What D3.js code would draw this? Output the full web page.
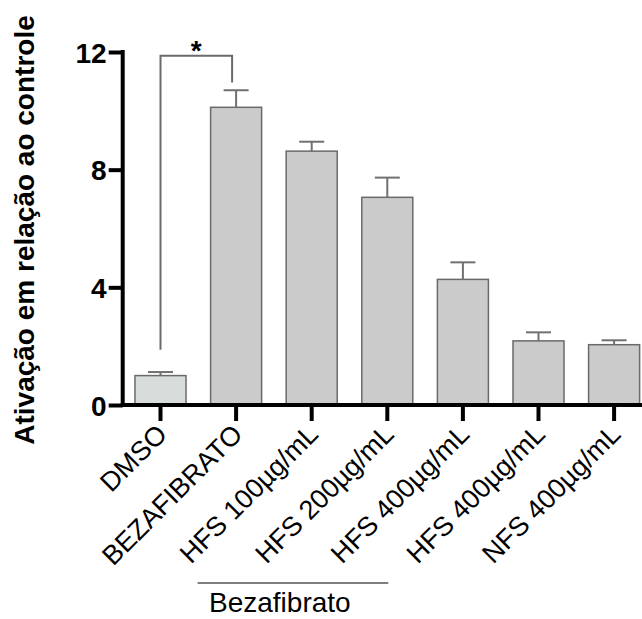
<!DOCTYPE html>
<head>
	<meta charset="utf-8" />
	<style>
		body {
			margin: 0;
			background-color: #fff;
			font-family: Arial, 'Liberation Sans', sans-serif;
		}
		svg text {
			font-family: Arial, 'Liberation Sans', sans-serif;
		}
	</style>
</head>

<body>
	<div id="chart-area"></div>

	<script src="https://d3js.org/d3.v7.min.js"></script>
	<script>
		// values
		const categories = [
			'DMSO',
			'BEZAFIBRATO',
			'HFS 100µg/mL',
			'HFS 200µg/mL',
			'HFS 400µg/mL',
			'HFS 400µg/mL ',
			'NFS 400µg/mL',
		];
		const means = [1.0, 10.12, 8.63, 7.06, 4.27, 2.18, 2.05];
		const errors = [0.12, 0.58, 0.32, 0.67, 0.58, 0.29, 0.15];
		const yTicks = [0, 4, 8, 12];
		const yTitle = 'Ativação em relação ao controle';
		const groupLabel = 'Bezafibrato';
		const groupSpan = ['BEZAFIBRATO', 'HFS 200µg/mL'];
		const signif = { from: 'DMSO', to: 'BEZAFIBRATO', label: '*' };

		const W = 642, H = 619;
		const margins = { left: 122.7, top: 52, bottom: 405 };

		const svg = d3
			.select('#chart-area')
			.append('svg')
			.attr('width', W)
			.attr('height', H);

		const x = d3
			.scaleBand()
			.domain(categories)
			.range([margins.left, margins.left + 7 * 75.6])
			.paddingInner(0.325)
			.paddingOuter(0.1625);

		const y = d3.scaleLinear().domain([0, 12]).range([margins.bottom, margins.top]);

		const cx = d => x(d) + x.bandwidth() / 2;

		// bars
		svg.selectAll('.bar')
			.data(categories)
			.join('rect')
			.attr('class', 'bar')
			.attr('x', d => x(d))
			.attr('y', (d, i) => y(means[i]))
			.attr('width', x.bandwidth())
			.attr('height', (d, i) => y(0) - y(means[i]))
			.attr('fill', (d, i) => (i === 0 ? '#d8dcda' : '#cbcbcb'))
			.attr('stroke', '#6a6a6a')
			.attr('stroke-width', 1.5);

		// error bars (upper only)
		const err = svg.append('g').attr('stroke', '#707070').attr('stroke-width', 2);
		categories.forEach((c, i) => {
			err.append('line')
				.attr('x1', cx(c)).attr('x2', cx(c))
				.attr('y1', y(means[i])).attr('y2', y(means[i] + errors[i]));
			err.append('line')
				.attr('x1', cx(c) - 12.5).attr('x2', cx(c) + 12.5)
				.attr('y1', y(means[i] + errors[i])).attr('y2', y(means[i] + errors[i]));
		});

		// y axis
		const yAxis = svg
			.append('g')
			.attr('transform', `translate(${margins.left},0)`)
			.call(d3.axisLeft(y).tickValues(yTicks).tickSize(14).tickPadding(2).tickSizeOuter(0));
		yAxis.select('.domain').remove();
		yAxis.append('line')
			.attr('x1', 0).attr('x2', 0)
			.attr('y1', y(12) - 2).attr('y2', y(0) + 2)
			.attr('stroke', '#000').attr('stroke-width', 4);
		yAxis.selectAll('.tick line').attr('stroke', '#000').attr('stroke-width', 4);
		yAxis.selectAll('.tick text')
			.attr('fill', '#000')
			.style('font-size', '28px')
			.style('font-weight', 'bold')
			.attr('dy', '0.36em');

		// x axis
		svg.append('line')
			.attr('x1', margins.left - 2).attr('x2', W)
			.attr('y1', y(0)).attr('y2', y(0))
			.attr('stroke', '#000').attr('stroke-width', 4);
		svg.selectAll('.xtick')
			.data(categories)
			.join('line')
			.attr('class', 'xtick')
			.attr('x1', cx).attr('x2', cx)
			.attr('y1', y(0)).attr('y2', y(0) + 16)
			.attr('stroke', '#000').attr('stroke-width', 4);
		svg.selectAll('.xlabel')
			.data(categories)
			.join('text')
			.attr('class', 'xlabel')
			.attr('transform', d => `translate(${cx(d) + 8},${y(0) + 31}) rotate(-45)`)
			.attr('text-anchor', 'end')
			.style('font-size', '27px')
			.text(d => d.trim());

		// y title
		svg.append('text')
			.attr('transform', `translate(34,230) rotate(-90)`)
			.attr('text-anchor', 'middle')
			.style('font-size', '28px')
			.style('font-weight', 'bold')
			.text(yTitle);

		// group line + label
		const gx0 = cx(groupSpan[0]) - 38.5, gx1 = cx(groupSpan[1]) + 1;
		svg.append('line')
			.attr('x1', gx0).attr('x2', gx1)
			.attr('y1', 583).attr('y2', 583)
			.attr('stroke', '#000').attr('stroke-width', 1.2);
		svg.append('text')
			.attr('x', 209).attr('y', 612)
			.style('font-size', '28px')
			.text(groupLabel);

		// significance bracket
		const bx0 = cx(signif.from), bx1 = cx(signif.to) - 4;
		svg.append('path')
			.attr('d', `M${bx0},${y(1.88)}V${y(11.87)}H${bx1}V${y(10.96)}`)
			.attr('fill', 'none')
			.attr('stroke', '#6a6a6a')
			.attr('stroke-width', 2);
		svg.append('text')
			.attr('x', (bx0 + bx1) / 2).attr('y', 60)
			.attr('text-anchor', 'middle')
			.style('font-size', '28px')
			.style('font-weight', 'bold')
			.text(signif.label);
	</script>
</body>
